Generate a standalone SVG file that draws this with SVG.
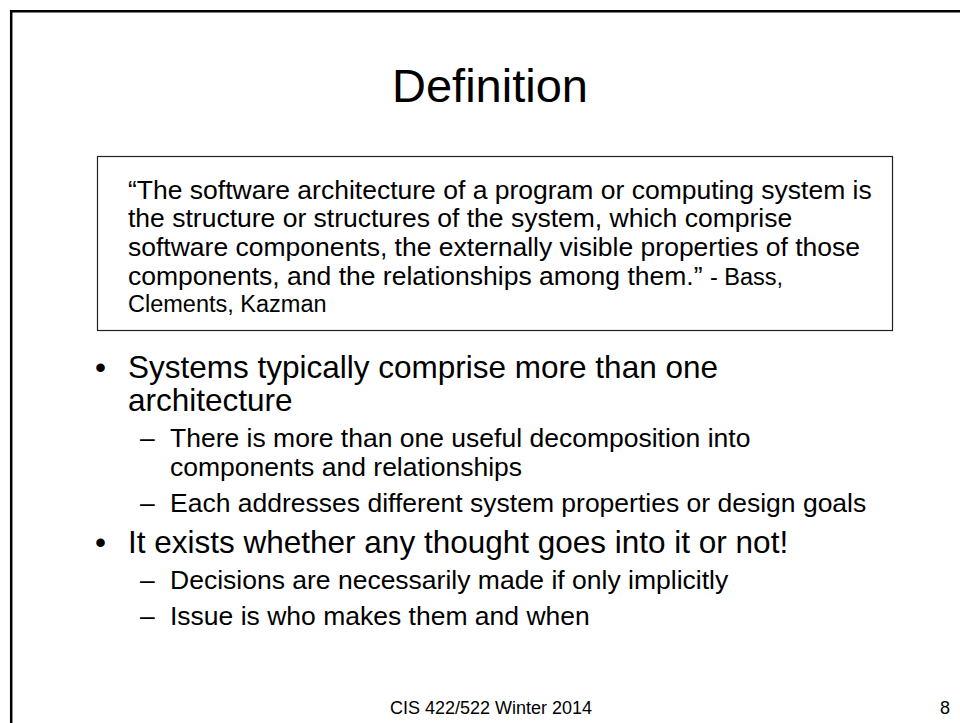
<svg xmlns="http://www.w3.org/2000/svg" width="960" height="723" viewBox="0 0 960 723">
  <style>
    text { font-family: "Liberation Sans", Arial, Helvetica, sans-serif; fill: #000; }
    .title { font-size: 47px; text-anchor: middle; }
    .quote { font-size: 26.5px; }
    .cite { font-size: 23.5px; }
    .l1 { font-size: 31.5px; }
    .l2 { font-size: 26.5px; }
    .foot { font-size: 18px; }
  </style>
  <rect width="960" height="723" fill="#fff"/>
  <!-- slide frame -->
  <path d="M11.2,723 V11.2 H960" fill="none" stroke="#000" stroke-width="2.5"/>

  <g id="title">
    <text class="title" x="490" y="102">Definition</text>
  </g>

  <g id="quote">
    <rect x="97.5" y="156.5" width="795" height="174" fill="none" stroke="#222" stroke-width="1.2"/>
    <text class="quote" x="128" y="199">“The software architecture of a program or computing system is</text>
    <text class="quote" x="128" y="227">the structure or structures of the system, which comprise</text>
    <text class="quote" x="128" y="256">software components, the externally visible properties of those</text>
    <text class="quote" x="128" y="285">components, and the relationships among them.” <tspan class="cite">- Bass,</tspan></text>
    <text class="cite" x="128" y="312">Clements, Kazman</text>
  </g>

  <g id="bullets">
    <text class="l1" x="95" y="378">•</text>
    <text class="l1" x="128" y="378">Systems typically comprise more than one</text>
    <text class="l1" x="128" y="411">architecture</text>
    <text class="l2" x="140" y="447">–</text>
    <text class="l2" x="170" y="447">There is more than one useful decomposition into</text>
    <text class="l2" x="170" y="476">components and relationships</text>
    <text class="l2" x="140" y="512">–</text>
    <text class="l2" x="170" y="512">Each addresses different system properties or design goals</text>
    <text class="l1" x="95" y="553">•</text>
    <text class="l1" x="128" y="553">It exists whether any thought goes into it or not!</text>
    <text class="l2" x="140" y="589">–</text>
    <text class="l2" x="170" y="589">Decisions are necessarily made if only implicitly</text>
    <text class="l2" x="140" y="625">–</text>
    <text class="l2" x="170" y="625">Issue is who makes them and when</text>
  </g>

  <g id="footer">
    <text class="foot" x="491" y="714" text-anchor="middle">CIS 422/522 Winter 2014</text>
    <text class="foot" x="940" y="714">8</text>
  </g>
</svg>
